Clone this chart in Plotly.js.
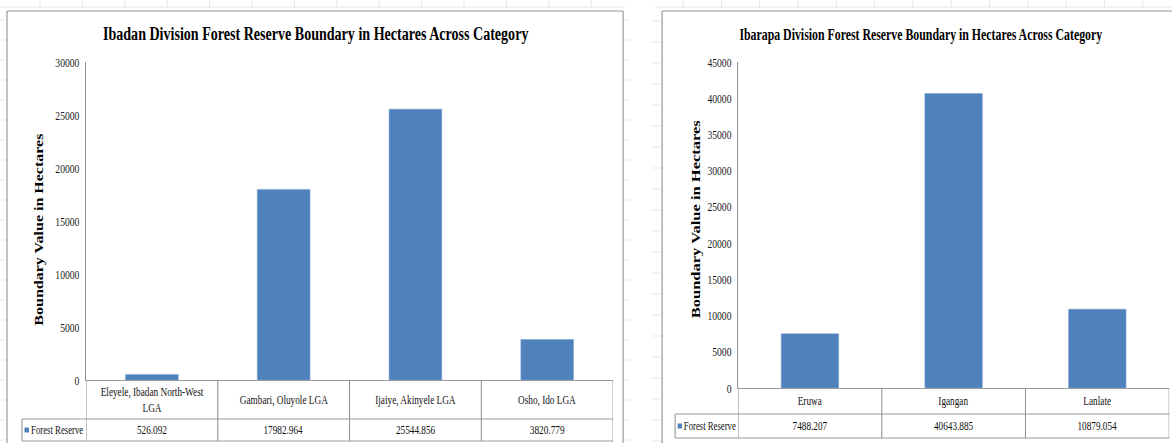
<!DOCTYPE html>
<html><head><meta charset="utf-8">
<script src="https://cdn.plot.ly/plotly-3.0.1.min.js"></script>
<style>
html,body{margin:0;padding:0;overflow:hidden;background:#fff;}
#wrap{width:1172px;height:443px;overflow:hidden;position:relative;background:#fff;}
#chart{position:absolute;left:0;top:0;transform-origin:0 0;}
</style></head><body>
<div id="wrap"><div id="chart"></div></div>
<script>
// ---------- data ----------
const ibadanTitle = "Ibadan Division Forest Reserve Boundary in Hectares Across Category";
const ibarapaTitle = "Ibarapa Division Forest Reserve Boundary in Hectares Across Category";
const yAxisTitle = "Boundary Value in Hectares";
const seriesName = "Forest Reserve";

const ibadanCategories = ["Eleyele, Ibadan North-West LGA", "Gambari, Oluyole LGA", "Ijaiye, Akinyele LGA", "Osho, Ido LGA"];
const ibadanValues = [526.092, 17982.964, 25544.856, 3820.779];
const ibadanTicks = [0, 5000, 10000, 15000, 20000, 25000, 30000];

const ibarapaCategories = ["Eruwa", "Igangan", "Lanlate"];
const ibarapaValues = [7488.207, 40643.885, 10879.054];
const ibarapaTicks = [0, 5000, 10000, 15000, 20000, 25000, 30000, 35000, 40000, 45000];

// ---------- page geometry ----------
const W = 1172, H = 443, S = 0.74;          // S: horizontal squeeze of the screenshot
const px = x => x / W, py = y => 1 - y / H;
const FONT = '"Liberation Serif", "Times New Roman", serif';
const BAR = '#4F81BD', LINE = '#8c8c8c', FRAME = '#868686', GRID = '#dfe2e6';
const HW = 1, VW = 1.35;                     // line widths (vertical compensate squeeze)
const SMALL = 12.5, TICK = 13, LEG = 11.8;

document.getElementById('chart').style.transform = 'scaleX(' + S + ')';

function wrap(label, maxChars) {
  const words = label.split(' '); const lines = []; let cur = '';
  words.forEach(w => {
    if (cur && (cur + ' ' + w).length > maxChars) { lines.push(cur); cur = w; }
    else cur = cur ? cur + ' ' + w : w;
  });
  if (cur) lines.push(cur);
  return lines.join('<br>');
}

const shapes = [], annotations = [];
function hline(x0, x1, y, color, width) {
  shapes.push({type:'line', xref:'paper', yref:'paper', x0:px(x0), x1:px(x1), y0:py(y), y1:py(y), line:{color:color, width:width||HW}});
}
function vline(x, y0, y1, color, width) {
  shapes.push({type:'line', xref:'paper', yref:'paper', x0:px(x), x1:px(x), y0:py(y0), y1:py(y1), line:{color:color, width:width||VW}});
}

// ---------- spreadsheet background gridlines ----------
hline(0, 625, 7, GRID);
for (let x = 40; x < 625; x += 42.4) vline(x, 0, 7, GRID, 1);
for (let y = 20; y < H; y += 20) { hline(0, 6, y, GRID); hline(624, 630, y, GRID); }
hline(655, 1172, 7, GRID);
for (let x = 683; x < 1172; x += 38.3) vline(x, 0, 7, GRID, 1);
for (let y = 21; y < H; y += 21) hline(652, 661, y, GRID);

// ---------- chart frames ----------
hline(7, 623, 11, FRAME); vline(7, 11, 445, FRAME); vline(623, 11, 445, FRAME);
hline(662, 1175, 11, FRAME); vline(662, 11, 445, FRAME);

// ---------- data tables ----------
function table(o) {
  const xr = o.xref;
  hline(o.legendLeft, o.plotRight, o.row1Bottom, LINE);
  hline(o.legendLeft, o.plotRight, o.row2Bottom, LINE);
  vline(o.legendLeft, o.row1Bottom, o.row2Bottom, LINE);
  for (let i = 0; i <= o.categories.length; i++) {
    shapes.push({type:'line', xref:xr, yref:'paper', x0:i - 0.5, x1:i - 0.5,
      y0:py(o.axisY), y1:py(o.row2Bottom), line:{color:LINE, width:VW}});
  }
  const r1 = (o.axisY + o.row1Bottom) / 2, r2 = (o.row1Bottom + o.row2Bottom) / 2;
  o.categories.forEach((c, i) => {
    annotations.push({xref:xr, yref:'paper', x:i, y:py(r1), text:wrap(c, 26), showarrow:false,
      xanchor:'center', yanchor:'middle', font:{family:FONT, size:SMALL, color:'#111'}});
  });
  o.values.forEach((v, i) => {
    annotations.push({xref:xr, yref:'paper', x:i, y:py(r2), text:v.toFixed(3), showarrow:false,
      xanchor:'center', yanchor:'middle', font:{family:FONT, size:SMALL, color:'#111'}});
  });
  shapes.push({type:'rect', xref:'paper', yref:'paper', x0:px(o.legendLeft + 2.5), x1:px(o.legendLeft + 7),
    y0:py(r2 + 2.5), y1:py(r2 - 2.5), fillcolor:BAR, line:{width:0}});
  annotations.push({xref:'paper', yref:'paper', x:px(o.legendLeft + 7.5), y:py(r2), text:seriesName, showarrow:false,
    xanchor:'left', yanchor:'middle', font:{family:FONT, size:LEG, color:'#111'}});
}

table({xref:'x', categories:ibadanCategories, values:ibadanValues, axisY:380, row1Bottom:419, row2Bottom:441,
  legendLeft:22, plotRight:613});
table({xref:'x2', categories:ibarapaCategories, values:ibarapaValues, axisY:388, row1Bottom:414, row2Bottom:438,
  legendLeft:675, plotRight:1169});

// ---------- titles ----------
annotations.push({xref:'paper', yref:'paper', x:px(316), y:py(33), text:'<b>' + ibadanTitle + '</b>', showarrow:false,
  xanchor:'center', yanchor:'middle', font:{family:FONT, size:19, color:'#000'}});
annotations.push({xref:'paper', yref:'paper', x:px(921), y:py(35), text:'<b>' + ibarapaTitle + '</b>', showarrow:false,
  xanchor:'center', yanchor:'middle', font:{family:FONT, size:16, color:'#000'}});
annotations.push({xref:'paper', yref:'paper', x:px(39), y:py(230), text:'<b>' + yAxisTitle + '</b>', showarrow:false,
  textangle:-90, xanchor:'center', yanchor:'middle', font:{family:FONT, size:16, color:'#000'}});
annotations.push({xref:'paper', yref:'paper', x:px(695), y:py(219), text:'<b>' + yAxisTitle + '</b>', showarrow:false,
  textangle:-90, xanchor:'center', yanchor:'middle', font:{family:FONT, size:16.5, color:'#000'}});

// ---------- traces ----------
const traces = [
  {type:'bar', name:seriesName, x:ibadanCategories, y:ibadanValues, xaxis:'x', yaxis:'y',
   marker:{color:BAR, line:{color:'#7aa1d2', width:0.6}}, hoverinfo:'x+y'},
  {type:'bar', name:seriesName, x:ibarapaCategories, y:ibarapaValues, xaxis:'x2', yaxis:'y2',
   marker:{color:BAR, line:{color:'#7aa1d2', width:0.6}}, hoverinfo:'x+y'}
];

function xAxis(domain, n, anchor) {
  return {domain:domain, anchor:anchor, type:'category', range:[-0.5, n - 0.5], showline:true, linecolor:LINE,
    linewidth:HW, showticklabels:false, ticks:'', showgrid:false, zeroline:false, fixedrange:true};
}
function yAxis(domain, ticks, anchor) {
  return {domain:domain, anchor:anchor, range:[0, ticks[ticks.length - 1]], tickvals:ticks,
    ticktext:ticks.map(String), showline:true, linecolor:LINE, linewidth:VW, ticks:'', showgrid:false,
    zeroline:false, ticklabelstandoff:5, tickfont:{family:FONT, size:TICK, color:'#1a1a1a'}, fixedrange:true};
}

const layout = {
  width: Math.round(W / S), height: H,
  margin:{l:0, r:0, t:0, b:0, pad:0},
  paper_bgcolor:'rgba(0,0,0,0)', plot_bgcolor:'rgba(0,0,0,0)',
  showlegend:false, bargap:0.6,
  xaxis: xAxis([px(86), px(613)], ibadanCategories.length, 'y'),
  yaxis: yAxis([py(380), py(62)], ibadanTicks, 'x'),
  xaxis2: xAxis([px(738), px(1169)], ibarapaCategories.length, 'y2'),
  yaxis2: yAxis([py(388), py(62)], ibarapaTicks, 'x2'),
  shapes: shapes, annotations: annotations
};

Plotly.newPlot('chart', traces, layout, {displayModeBar:false, staticPlot:true});
</script>
</body></html>
